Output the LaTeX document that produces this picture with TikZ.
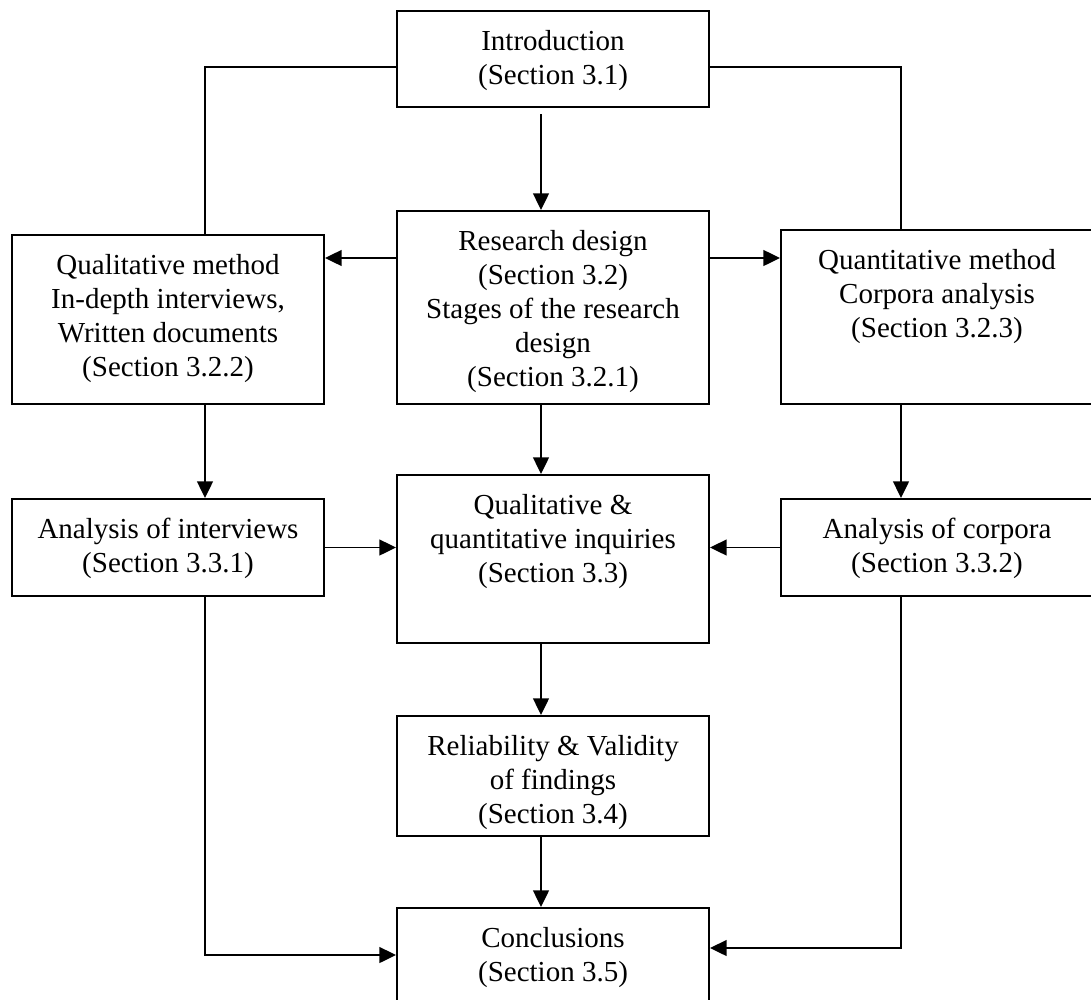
\documentclass[tikz,border=0pt]{standalone}
\usepackage{fontspec}
\setmainfont{Liberation Serif}
\usetikzlibrary{arrows.meta,fit}
\begin{document}
\begin{tikzpicture}[x=0.75pt,y=-0.75pt,
  box/.style={draw,line width=1.6pt,inner sep=0pt},
  txt/.style={anchor=north,align=center,inner sep=0pt,
    font=\fontsize{21.75}{25.5}\selectfont},
  ln/.style={line width=1.2pt},
  arr/.style={line width=1.2pt,-{Triangle[length=12.5pt,width=12pt]}}]
\useasboundingbox (0,0) rectangle (1091,999);
\clip (0,0) rectangle (1091,999);

% boxes
\node[box,fit={(397,11) (709,107)}] (intro) {};
\node[box,fit={(397,211) (709,404)}] (rd) {};
\node[box,fit={(12,235) (324,404)}] (qual) {};
\node[box,fit={(781,230) (1093,404)}] (quant) {};
\node[box,fit={(12,499) (324,596)}] (interviews) {};
\node[box,fit={(397,475) (709,643)}] (qq) {};
\node[box,fit={(781,499) (1093,596)}] (corpora) {};
\node[box,fit={(397,716) (709,836)}] (rel) {};
\node[box,fit={(397,908) (709,1020)}] (concl) {};

% box texts, set from the top of each box
\node[txt] (intro-t) at ([yshift=-15.2pt]intro.north) {Introduction\\(Section 3.1)};
\node[txt] (rd-t) at ([yshift=-15.2pt]rd.north) {Research design\\(Section 3.2)\\Stages of the research\\design\\(Section 3.2.1)};
\node[txt] (qual-t) at ([yshift=-15.2pt]qual.north) {Qualitative method\\In-depth interviews,\\Written documents\\(Section 3.2.2)};
\node[txt] (quant-t) at ([yshift=-15.2pt]quant.north) {Quantitative method\\Corpora analysis\\(Section 3.2.3)};
\node[txt] (interviews-t) at ([yshift=-15.2pt]interviews.north) {Analysis of interviews\\(Section 3.3.1)};
\node[txt] (qq-t) at ([yshift=-15.2pt]qq.north) {Qualitative \&\\quantitative inquiries\\(Section 3.3)};
\node[txt] (corpora-t) at ([yshift=-15.2pt]corpora.north) {Analysis of corpora\\(Section 3.3.2)};
\node[txt] (rel-t) at ([yshift=-15.2pt]rel.north) {Reliability \& Validity\\of findings\\(Section 3.4)};
\node[txt] (concl-t) at ([yshift=-15.2pt]concl.north) {Conclusions\\(Section 3.5)};

% connector columns and rows
\coordinate (lx) at (205,0);
\coordinate (mx) at (541,0);
\coordinate (rx) at (901,0);
\coordinate (ry) at (0,258);
\coordinate (ly1) at (0,955);
\coordinate (ly2) at (0,948);

% connectors
\draw[ln] ([yshift=-6pt]intro.west) -| (qual.north -| lx);
\draw[ln] ([yshift=-6pt]intro.east) -| (quant.north -| rx);
\draw[arr,shorten <=4.5pt] (intro.south -| mx) -- (rd.north -| mx);
\draw[arr] (rd.west |- ry) -- (qual.east |- ry);
\draw[arr] (rd.east |- ry) -- (quant.west |- ry);
\draw[arr] (qual.south -| lx) -- (interviews.north -| lx);
\draw[arr] (rd.south -| mx) -- (qq.north -| mx);
\draw[arr] (quant.south -| rx) -- (corpora.north -| rx);
\draw[arr] (interviews.east) -- (qq.west |- interviews.east);
\draw[arr] (corpora.west) -- (qq.east |- corpora.west);
\draw[arr] (qq.south -| mx) -- (rel.north -| mx);
\draw[arr] (rel.south -| mx) -- (concl.north -| mx);
\draw[arr] (interviews.south -| lx) |- (concl.west |- ly1);
\draw[arr] (corpora.south -| rx) |- (concl.east |- ly2);
\end{tikzpicture}
\end{document}
